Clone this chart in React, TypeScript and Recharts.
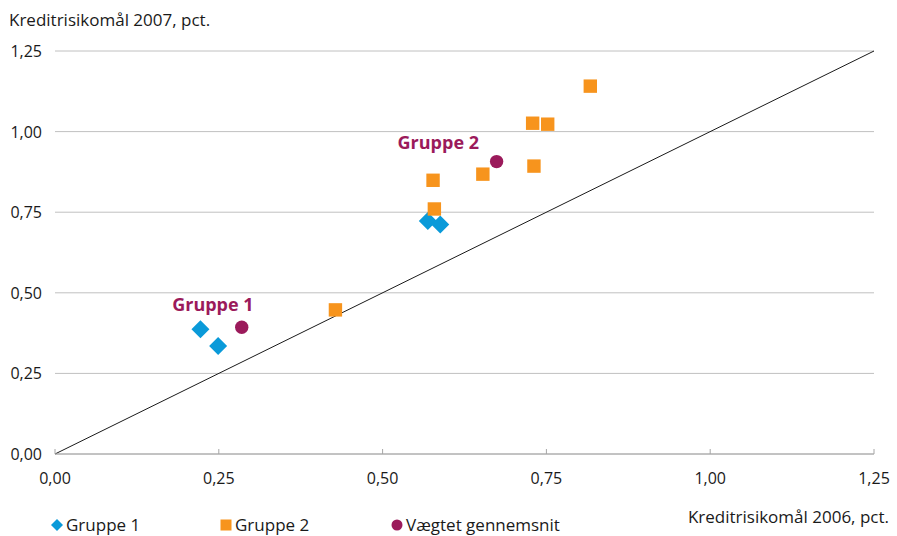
import React from 'react';
import {
  ScatterChart,
  Scatter,
  XAxis,
  YAxis,
  CartesianGrid,
  ReferenceLine,
  ReferenceDot,
  Legend,
} from 'recharts';

// Kreditrisikomål 2006 (x) mod 2007 (y), pct.
const gruppe1X = [0.222, 0.249, 0.569, 0.588];
const gruppe1Y = [0.387, 0.335, 0.723, 0.712];

const gruppe2X = [0.428, 0.579, 0.577, 0.653, 0.729, 0.752, 0.731, 0.817];
const gruppe2Y = [0.447, 0.760, 0.849, 0.868, 1.026, 1.023, 0.893, 1.141];

const snitX = [0.285, 0.674];
const snitY = [0.393, 0.907];

const ticks = [0, 0.25, 0.5, 0.75, 1.0, 1.25];

const annotations = [
  { text: 'Gruppe 1', x: 0.241, y: 0.462 },
  { text: 'Gruppe 2', x: 0.585, y: 0.965 },
];

const legendItems = [
  { name: 'Gruppe 1', shape: 'diamond', color: '#0a9ad9' },
  { name: 'Gruppe 2', shape: 'square', color: '#f7941d' },
  { name: 'Vægtet gennemsnit', shape: 'circle', color: '#9b1a5b' },
];

const FONT = '"Open Sans", sans-serif';
const TEXT = '#1a1a1a';
const BLUE = '#0a9ad9';
const ORANGE = '#f7941d';
const PURPLE = '#9b1a5b';

const fmt = (v: number) => v.toFixed(2).replace('.', ',');

const toPoints = (xs: number[], ys: number[]) =>
  xs.map((x, i) => ({ x, y: ys[i] }));

const Diamond = (props: any) => {
  const { cx, cy } = props;
  const r = 9;
  return (
    <polygon
      points={`${cx},${cy - r} ${cx + r},${cy} ${cx},${cy + r} ${cx - r},${cy}`}
      fill={BLUE}
    />
  );
};

const Square = (props: any) => {
  const { cx, cy } = props;
  const s = 13.4;
  return <rect x={cx - s / 2} y={cy - s / 2} width={s} height={s} fill={ORANGE} />;
};

const Dot = (props: any) => {
  const { cx, cy } = props;
  return <circle cx={cx} cy={cy} r={6.7} fill={PURPLE} />;
};

const XTick = (props: any) => {
  const { x, y, payload } = props;
  return (
    <g>
      <line x1={x} x2={x} y1={y - 5} y2={y} stroke="#a6a6a6" strokeWidth={1} />
      <text
        x={x}
        y={y + 24}
        textAnchor="middle"
        dominantBaseline="central"
        fontFamily={FONT}
        fontSize={16}
        fill={TEXT}
      >
        {fmt(payload.value)}
      </text>
    </g>
  );
};

const YTick = (props: any) => {
  const { y, payload } = props;
  return (
    <text
      x={42}
      y={y}
      textAnchor="end"
      dominantBaseline="central"
      fontFamily={FONT}
      fontSize={16}
      fill={TEXT}
    >
      {fmt(payload.value)}
    </text>
  );
};

const LegendContent = () => {
  const xs = [50, 219, 390];
  return (
    <div style={{ position: 'relative', height: 18 }}>
      {legendItems.map((item, i) => (
        <div
          key={item.name}
          style={{
            position: 'absolute',
            left: xs[i],
            top: 0,
            height: 18,
            display: 'flex',
            alignItems: 'center',
            fontFamily: FONT,
            fontSize: 17,
            lineHeight: '18px',
            color: TEXT,
            whiteSpace: 'nowrap',
          }}
        >
          <svg width={14} height={14} style={{ marginRight: 2 }}>
            {item.shape === 'diamond' && (
              <polygon points="7,1 13,7 7,13 1,7" fill={item.color} />
            )}
            {item.shape === 'square' && (
              <rect x={1.5} y={1.5} width={11} height={11} fill={item.color} />
            )}
            {item.shape === 'circle' && (
              <circle cx={7} cy={7} r={5.5} fill={item.color} />
            )}
          </svg>
          {item.name}
        </div>
      ))}
    </div>
  );
};

export default function App() {
  return (
    <div style={{ position: 'absolute', left: 0, top: 0, width: 897, height: 536, background: '#fff' }}>
      <div
        style={{
          position: 'absolute',
          left: 9,
          top: 8,
          fontFamily: FONT,
          fontSize: 17,
          color: TEXT,
          whiteSpace: 'nowrap',
        }}
      >
        Kreditrisikomål 2007, pct.
      </div>
      <div
        style={{
          position: 'absolute',
          right: 8,
          top: 505,
          fontFamily: FONT,
          fontSize: 17,
          color: TEXT,
          whiteSpace: 'nowrap',
        }}
      >
        Kreditrisikomål 2006, pct.
      </div>
      <ScatterChart
        width={897}
        height={536}
        margin={{ top: 51, right: 23, bottom: 24, left: 0 }}
      >
        <CartesianGrid vertical={false} stroke="#c0c0c0" strokeWidth={1} />
        <XAxis
          type="number"
          dataKey="x"
          domain={[0, 1.25]}
          ticks={ticks}
          height={40}
          axisLine={{ stroke: '#a6a6a6', strokeWidth: 1 }}
          tickLine={false}
          tickSize={0}
          tickMargin={0}
          tick={<XTick />}
          interval={0}
        />
        <YAxis
          type="number"
          dataKey="y"
          domain={[0, 1.25]}
          ticks={ticks}
          width={55}
          axisLine={false}
          tickLine={false}
          tick={<YTick />}
          interval={0}
        />
        <ReferenceLine
          segment={[
            { x: 0, y: 0 },
            { x: 1.25, y: 1.25 },
          ]}
          stroke="#1a1a1a"
          strokeWidth={1}
        />
        <Scatter
          name="Gruppe 1"
          data={toPoints(gruppe1X, gruppe1Y)}
          shape={<Diamond />}
          isAnimationActive={false}
        />
        <Scatter
          name="Gruppe 2"
          data={toPoints(gruppe2X, gruppe2Y)}
          shape={<Square />}
          isAnimationActive={false}
        />
        <Scatter
          name="Vægtet gennemsnit"
          data={toPoints(snitX, snitY)}
          shape={<Dot />}
          isAnimationActive={false}
        />
        {annotations.map((a) => (
          <ReferenceDot
            key={a.text}
            x={a.x}
            y={a.y}
            r={0}
            fill="none"
            stroke="none"
            ifOverflow="visible"
            label={{
              value: a.text,
              position: 'center',
              fill: PURPLE,
              fontFamily: FONT,
              fontSize: 18,
              fontWeight: 700,
            }}
          />
        ))}
        <Legend
          content={<LegendContent />}
          wrapperStyle={{ position: 'absolute', left: 0, top: 516, width: 897 }}
        />
      </ScatterChart>
    </div>
  );
}
